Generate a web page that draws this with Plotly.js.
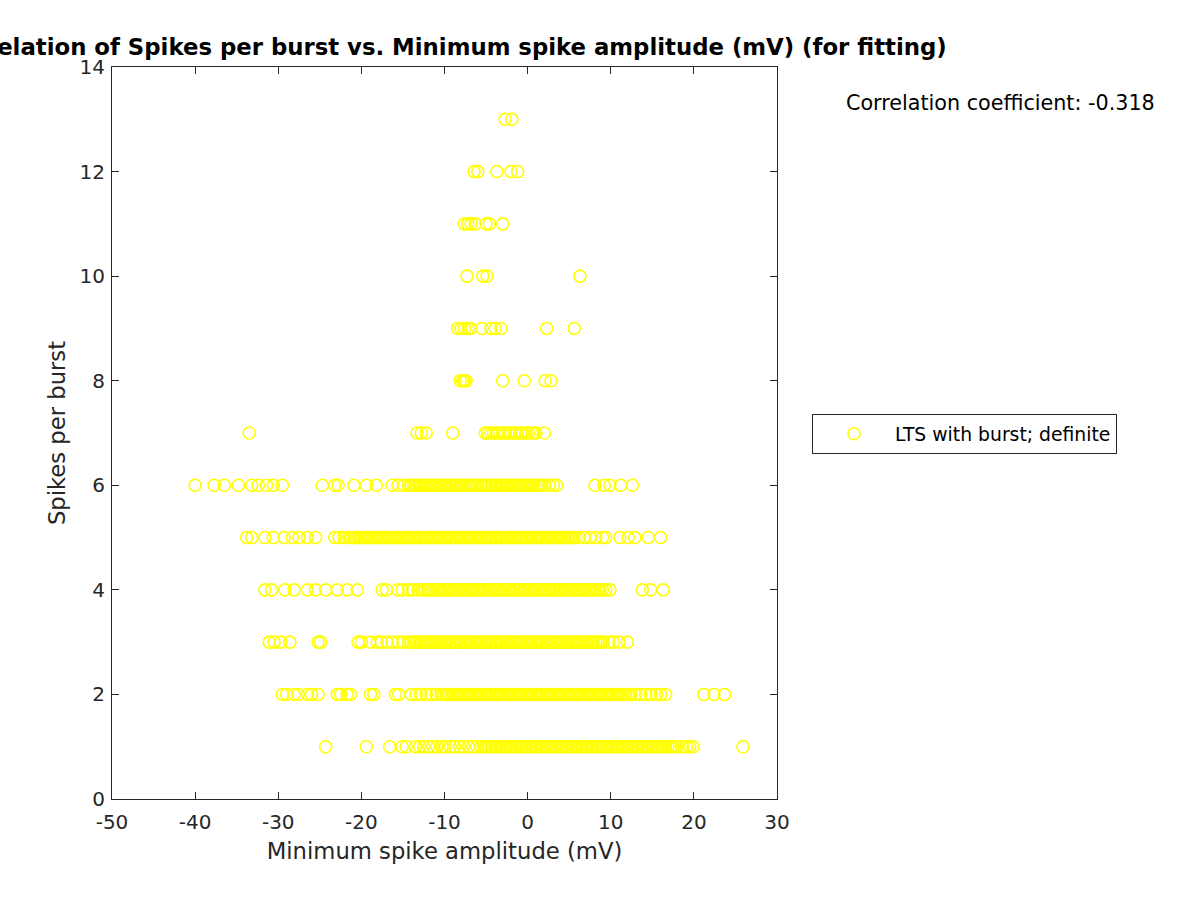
<!DOCTYPE html>
<html>
<head>
<meta charset="utf-8">
<script src="https://cdn.plot.ly/plotly-3.0.1.min.js"></script>
<style>
  body { margin: 0; background: #fff; }
  #plot { width: 1200px; height: 900px; }
</style>
</head>
<body>
<div id="plot"></div>
<script>
// Spikes per burst (y) for each row of points
let spikeCounts = [1, 2, 3, 4, 5, 6, 7, 8, 9, 10, 11, 12, 13]

// Minimum spike amplitude (mV) of the points in each row
// (the solid bands are many overlapping circles)
let amp1 = [-24.3, -19.4, -16.6, -15.1, -14.6, -13.5, -13.0, -12.5, -11.9, -11.4, -10.9, -10.3, -9.9,
  -9.3, -8.8, -8.2, -7.7, -7.1, -6.6, -6.1,
  -5.6, -5.3, -5.0, -4.7, -4.4, -4.1, -3.8, -3.5, -3.2, -2.9, -2.6, -2.3, -2.0, -1.7, -1.4, -1.1,
  -0.8, -0.5, -0.2, 0.1, 0.4, 0.7, 1.0, 1.3, 1.6, 1.9, 2.2, 2.5, 2.8, 3.1, 3.4, 3.7, 4.0, 4.3, 4.6,
  4.9, 5.2, 5.5, 5.8, 6.1, 6.4, 6.7, 7.0, 7.3, 7.6, 7.9, 8.2, 8.5, 8.8, 9.1, 9.4, 9.7, 10.0, 10.3,
  10.6, 10.9, 11.2, 11.5, 11.8, 12.1, 12.4, 12.7, 13.0, 13.3, 13.6, 13.9, 14.2, 14.5, 14.8, 15.1,
  15.4, 15.7, 16.0, 16.3, 16.6, 16.9, 17.2, 17.5, 17.9, 18.6, 19.1, 19.5, 19.9, 25.9]
let amp2 = [-29.5, -29.0, -28.1, -27.6, -26.5, -26.0, -25.2, -22.9, -22.5, -21.7, -21.3, -18.9, -18.5,
  -15.9, -15.5, -14.0, -13.4, -12.9, -12.2, -11.6, -11.0,
  -10.4, -10.1, -9.8, -9.5, -9.2, -8.9, -8.6, -8.3, -8.0, -7.7, -7.4, -7.1, -6.8, -6.5, -6.2, -5.9,
  -5.6, -5.3, -5.0, -4.7, -4.4, -4.1, -3.8, -3.5, -3.2, -2.9, -2.6, -2.3, -2.0, -1.7, -1.4, -1.1,
  -0.8, -0.5, -0.2, 0.1, 0.4, 0.7, 1.0, 1.3, 1.6, 1.9, 2.2, 2.5, 2.8, 3.1, 3.4, 3.7, 4.0, 4.3, 4.6,
  4.9, 5.2, 5.5, 5.8, 6.1, 6.4, 6.7, 7.0, 7.3, 7.6, 7.9, 8.2, 8.5, 8.8, 9.1, 9.4, 9.7, 10.0, 10.3,
  10.6, 10.9, 11.2, 11.5, 11.8, 12.1, 12.4, 13.0, 13.6, 14.2, 14.8, 15.5, 16.0, 16.6,
  21.2, 22.4, 23.7]
let amp3 = [-31.1, -30.5, -29.7, -28.6, -25.2, -24.9, -20.4, -20.0, -19.0, -18.1, -17.6, -16.9, -16.3,
  -15.6, -15.0,
  -14.3, -14.0, -13.7, -13.4, -13.1, -12.8, -12.5, -12.2, -11.9, -11.6, -11.3, -11.0, -10.7, -10.4,
  -10.1, -9.8, -9.5, -9.2, -8.9, -8.6, -8.3, -8.0, -7.7, -7.4, -7.1, -6.8, -6.5, -6.2, -5.9, -5.6,
  -5.3, -5.0, -4.7, -4.4, -4.1, -3.8, -3.5, -3.2, -2.9, -2.6, -2.3, -2.0, -1.7, -1.4, -1.1, -0.8,
  -0.5, -0.2, 0.1, 0.4, 0.7, 1.0, 1.3, 1.6, 1.9, 2.2, 2.5, 2.8, 3.1, 3.4, 3.7, 4.0, 4.3, 4.6, 4.9,
  5.2, 5.5, 5.8, 6.1, 6.4, 6.7, 7.0, 7.3, 7.6, 7.9, 8.2, 8.5, 8.8, 9.1, 9.8, 10.3, 11.0, 12.0]
let amp4 = [-31.6, -30.8, -29.2, -28.1, -26.5, -25.5, -24.3, -22.9, -21.7, -20.5, -17.5, -17.0, -15.6,
  -15.1, -14.3, -13.8, -13.2, -12.7,
  -12.3, -12.0, -11.7, -11.4, -11.1, -10.8, -10.5, -10.2, -9.9, -9.6, -9.3, -9.0, -8.7, -8.4, -8.1,
  -7.8, -7.5, -7.2, -6.9, -6.6, -6.3, -6.0, -5.7, -5.4, -5.1, -4.8, -4.5, -4.2, -3.9, -3.6, -3.3,
  -3.0, -2.7, -2.4, -2.1, -1.8, -1.5, -1.2, -0.9, -0.6, -0.3, 0.0, 0.3, 0.6, 0.9, 1.2, 1.5, 1.8, 2.1,
  2.4, 2.7, 3.0, 3.3, 3.6, 3.9, 4.2, 4.5, 4.8, 5.1, 5.4, 5.7, 6.0, 6.3, 6.6, 6.9, 7.2, 7.5, 7.8, 8.1,
  8.4, 8.7, 9.0, 9.4, 9.9, 13.8, 14.8, 16.3]
let amp5 = [-33.8, -33.2, -31.6, -30.6, -29.3, -28.3, -27.5, -26.5, -25.5, -23.2, -22.7, -22.1,
  -21.5, -21.2, -20.9, -20.6, -20.3, -20.0, -19.7, -19.4, -19.1, -18.8, -18.5, -18.2, -17.9, -17.6,
  -17.3, -17.0, -16.7, -16.4, -16.1, -15.8, -15.5, -15.2, -14.9, -14.6, -14.3, -14.0, -13.7, -13.4,
  -13.1, -12.8, -12.5, -12.2, -11.9, -11.6, -11.3, -11.0, -10.7, -10.4, -10.1, -9.8, -9.5, -9.2,
  -8.9, -8.6, -8.3, -8.0, -7.7, -7.4, -7.1, -6.8, -6.5, -6.2, -5.9, -5.6, -5.3, -5.0, -4.7, -4.4,
  -4.1, -3.8, -3.5, -3.2, -2.9, -2.6, -2.3, -2.0, -1.7, -1.4, -1.1, -0.8, -0.5, -0.2, 0.1, 0.4, 0.7,
  1.0, 1.3, 1.6, 1.9, 2.2, 2.5, 2.8, 3.1, 3.4, 3.7, 4.0, 4.3, 4.6, 4.9, 5.2, 5.5, 5.8, 6.2, 6.8, 7.5,
  8.2, 9.0, 9.4, 11.1, 12.1, 12.9, 14.5, 16.0]
let amp6 = [-40.0, -37.7, -36.5, -34.8, -33.2, -32.4, -31.4, -30.6, -29.5, -24.7, -23.2, -22.8, -20.9,
  -19.4, -18.2, -16.3, -15.6, -14.9,
  -14.3, -14.0, -13.7, -13.4, -13.1, -12.8, -12.5, -12.2, -11.9, -11.6, -11.3, -11.0, -10.7, -10.4,
  -10.1, -9.8, -9.5, -9.2, -8.9, -8.6, -8.3, -8.0, -7.7, -7.4, -7.1, -6.8, -6.5, -6.1, -5.6, -5.3,
  -5.0, -4.7, -4.4, -4.1, -3.8, -3.5, -3.2, -2.9, -2.6, -2.3, -2.0, -1.7, -1.4, -1.1, -0.8, -0.5,
  -0.2, 0.1, 0.4, 0.7, 1.0, 1.3, 1.6, 2.0, 2.6, 3.1, 3.5, 8.1, 9.2, 9.9, 11.2, 12.6]
let amp7 = [-33.5, -13.3, -12.8, -12.2, -9.0, -5.1, -4.8, -4.4, -4.1, -3.7, -3.4, -3.0, -2.7, -2.3,
  -2.0, -1.6, -1.3, -0.9, -0.6, -0.2, 0.1, 0.5, 0.8, 1.0, 2.0]
let amp8 = [-8.1, -7.8, -7.6, -7.4, -3.0, -0.4, 2.1, 2.8]
let amp9 = [-8.4, -8.0, -7.6, -7.2, -6.9, -5.5, -4.4, -3.9, -3.2, 2.3, 5.6]
let amp10 = [-7.3, -5.4, -4.9, 6.3]
let amp11 = [-7.6, -7.2, -6.8, -6.3, -5.0, -4.6, -3.0]
let amp12 = [-6.45, -6.0, -3.7, -2.0, -1.2]
let amp13 = [-2.7, -1.9]

let ampRows = [amp1, amp2, amp3, amp4, amp5, amp6, amp7, amp8, amp9, amp10, amp11, amp12, amp13]

// Tick labels (plain hyphen minus, as in the reference)
let xTickVals = [-50, -40, -30, -20, -10, 0, 10, 20, 30]
let xTickText = ['-50', '-40', '-30', '-20', '-10', '0', '10', '20', '30']
let yTickVals = [0, 2, 4, 6, 8, 10, 12, 14]
let yTickText = ['0', '2', '4', '6', '8', '10', '12', '14']

let xs = []
let ys = []
for (let i = 0; i < ampRows.length; i++) {
  for (let j = 0; j < ampRows[i].length; j++) {
    xs.push(ampRows[i][j]);
    ys.push(spikeCounts[i]);
  }
}

let fontFam = 'DejaVu Sans, sans-serif'
let ink = '#262626'

var trace1 = {
  x: xs,
  y: ys,
  mode: 'markers',
  type: 'scatter',
  name: 'LTS with burst; definite',
  marker: {
    symbol: 'circle-open',
    color: '#ffff00',
    size: 12,
    line: { color: '#ffff00', width: 1.6 }
  }
};

var layout = {
  width: 1200,
  height: 900,
  margin: { l: 112, r: 423, t: 67, b: 101 },
  paper_bgcolor: 'white',
  plot_bgcolor: 'white',
  font: { family: fontFam, color: ink, size: 20 },
  showlegend: true,
  title: {
    text: '<b>Correlation of Spikes per burst vs. Minimum spike amplitude (mV) (for fitting)</b>',
    font: { family: fontFam, size: 22.8, color: '#000' },
    x: 0.5, xref: 'paper', xanchor: 'center',
    y: 1 - 47 / 900, yref: 'container', yanchor: 'middle'
  },
  xaxis: {
    title: { text: 'Minimum spike amplitude (mV)', font: { size: 22.7, color: ink }, standoff: 10 },
    range: [-50, 30],
    tickmode: 'array', tickvals: xTickVals, ticktext: xTickText,
    ticks: 'inside', ticklen: 7, tickcolor: ink,
    ticklabelstandoff: 5,
    showline: true, linecolor: ink, linewidth: 1, mirror: 'ticks',
    showgrid: false, zeroline: false,
    tickfont: { size: 20, color: ink }
  },
  yaxis: {
    title: { text: 'Spikes per burst', font: { size: 22.7, color: ink }, standoff: 7 },
    range: [0, 14],
    tickmode: 'array', tickvals: yTickVals, ticktext: yTickText,
    ticks: 'inside', ticklen: 7, tickcolor: ink,
    ticklabelstandoff: 2,
    showline: true, linecolor: ink, linewidth: 1, mirror: 'ticks',
    showgrid: false, zeroline: false,
    tickfont: { size: 20, color: ink }
  },
  legend: {
    x: (812 - 112) / 665, y: (799 - 414) / 732,
    xanchor: 'left', yanchor: 'top',
    bordercolor: ink, borderwidth: 1, bgcolor: 'white',
    itemwidth: 72,
    font: { family: fontFam, size: 18.8, color: '#000' }
  },
  annotations: [{
    text: 'Correlation coefficient: -0.318',
    xref: 'paper', yref: 'paper',
    x: (844 - 112) / 665, y: (799 - 103) / 732,
    xanchor: 'left', yanchor: 'middle',
    showarrow: false,
    font: { family: fontFam, size: 20.7, color: '#000' }
  }]
};

Plotly.newPlot('plot', [trace1], layout, { displayModeBar: false, staticPlot: true });
</script>
</body>
</html>
